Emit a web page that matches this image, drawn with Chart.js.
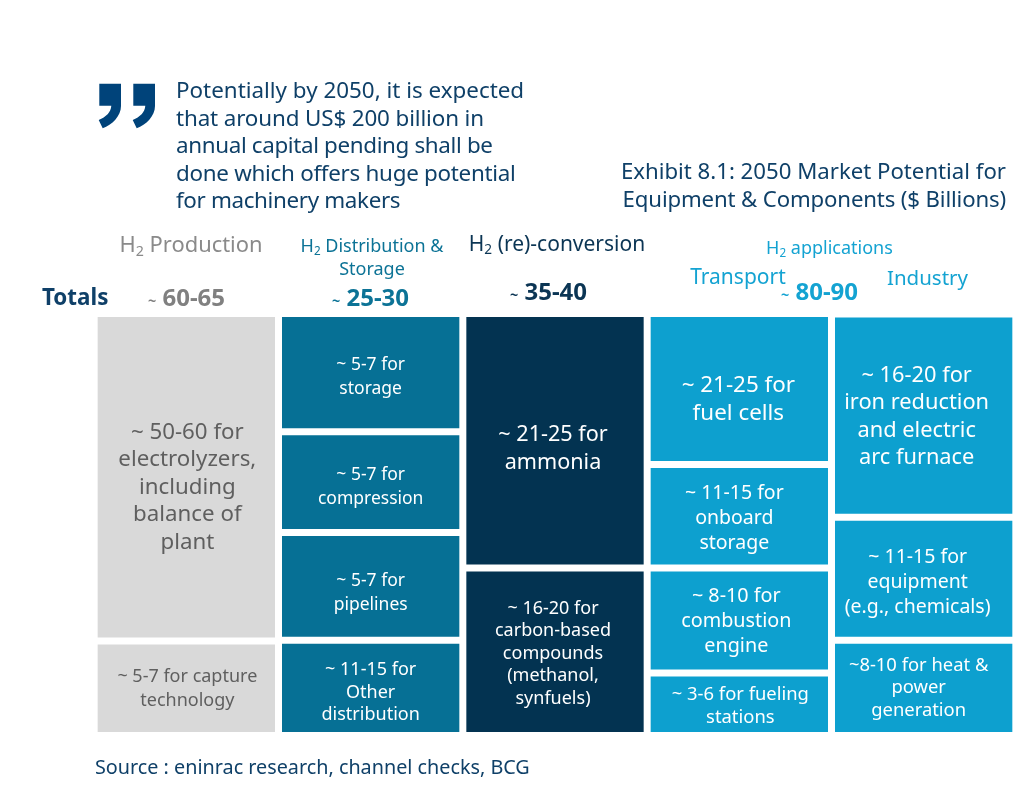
<!DOCTYPE html>
<html>
<head>
<meta charset="utf-8">
<script src="https://cdn.jsdelivr.net/npm/chart.js@4"></script>
<style>
body { margin: 0; background: #fff; font-family: "Noto Sans", sans-serif; }
#wrap { position: relative; width: 1026px; height: 792px; overflow: hidden; }
canvas { position: absolute; left: 0; top: 0; }
.t { position: absolute; white-space: nowrap; line-height: 1; }
.c { transform: translateX(-50%); text-align: center; }
.r { text-align: right; }
.t sub { font-size: 65%; line-height: 0; vertical-align: -0.25em; }
.t small { font-size: 60%; }
.dark { color: #0f4068; }
</style>
</head>
<body>
<div id="wrap">
  <canvas id="chart" width="1026" height="792"></canvas>

  <svg class="t" style="left:0;top:0" width="200" height="140">
    <path fill="#00437a" d="M99.300 83.700H121V106C121 116 112 125 102.700 128.300L98.700 120C106 117 111 112 111.300 105.700H99.300Z"/>
    <path fill="#00437a" d="M133.300 83.700H155V106C155 116 146 125 136.700 128.300L132.700 120C140 117 145 112 145.300 105.700H133.300Z"/>
  </svg>

  <div class="t dark" style="left:176px;top:76px;font-size:22.400px;line-height:27.500px">
    Potentially by 2050, it is expected<br>
    <span style="letter-spacing:-0.13px">that around US$ 200 billion in</span><br>
    <span style="letter-spacing:-0.35px">annual capital pending shall be</span><br>
    <span style="letter-spacing:-0.28px">done which offers huge potential</span><br>
    <span style="letter-spacing:-0.35px">for machinery makers</span>
  </div>
  <div class="t dark r" style="right:20px;top:157px;font-size:22.200px;line-height:28px">
    Exhibit 8.1: 2050 Market Potential for<br>
    <span style="letter-spacing:-0.14px">Equipment &amp; Components ($ Billions)</span>
  </div>

  <div class="t c" style="left:191px;top:233px;font-size:21.900px;color:#8a8a8a">H<sub>2</sub> Production</div>
  <div class="t c" style="left:372px;top:234px;font-size:18px;line-height:23px;color:#0c7396">H<sub>2</sub> Distribution &amp;<br>Storage</div>
  <div class="t c" style="left:557px;top:233px;font-size:21px;color:#0b3554">H<sub>2</sub> (re)-conversion</div>
  <div class="t c" style="left:829.500px;top:238px;font-size:18px;color:#14a3d2">H<sub>2</sub> applications</div>
  <div class="t c" style="left:738px;top:266px;font-size:21px;color:#14a3d2">Transport</div>
  <div class="t c" style="left:927.500px;top:267px;font-size:20.500px;color:#14a3d2">Industry</div>

  <div class="t" style="left:42px;top:286px;font-size:22.400px;font-weight:700;color:#0f4068">Totals</div>
  <div class="t c" style="left:186.500px;top:285px;font-size:24px;font-weight:700;color:#808080"><small>~</small> 60-65</div>
  <div class="t c" style="left:370.500px;top:285px;font-size:24px;font-weight:700;color:#0c7396"><small>~</small> 25-30</div>
  <div class="t c" style="left:548.500px;top:279px;font-size:24px;font-weight:700;color:#0b3554"><small>~</small> 35-40</div>
  <div class="t c" style="left:819.500px;top:279px;font-size:24px;font-weight:700;color:#14a3d2"><small>~</small> 80-90</div>

  <div class="t dark" style="left:95px;top:757px;font-size:19.800px">Source : eninrac research, channel checks, BCG</div>
</div>

<script>
// columns of the exhibit
const columns = ['H2 Production', 'H2 Distribution & Storage', 'H2 (re)-conversion', 'Transport', 'Industry'];
const columnColors = ['#d9d9d9', '#067095', '#033351', '#0da0cf', '#0da0cf'];
const labelColors = ['#5f5f5f', '#ffffff', '#ffffff', '#ffffff', '#ffffff'];

// share of each column, from the bottom block to the top block
const level1 = [22.4, 22.6, 39.7, 14.8, 22.6];
const level2 = [77.6, 25.5, 60.3, 24.9, 29.1];
const level3 = [null, 23.9, null, 24.5, 48.2];
const level4 = [null, 28.0, null, 35.8, null];

const level1Labels = [
    ['~ 5-7 for capture', 'technology'],
    ['~ 11-15 for', 'Other', 'distribution'],
    ['~ 16-20 for', 'carbon-based', 'compounds', '(methanol,', 'synfuels)'],
    ['~ 3-6 for fueling', 'stations'],
    ['~8-10 for heat &', 'power', 'generation']
];
const level2Labels = [
    ['~ 50-60 for', 'electrolyzers,', 'including', 'balance of', 'plant'],
    ['~ 5-7 for', 'pipelines'],
    ['~ 21-25 for', 'ammonia'],
    ['~ 8-10 for', 'combustion', 'engine'],
    ['~ 11-15 for', 'equipment', '(e.g., chemicals)']
];
const level3Labels = [
    null,
    ['~ 5-7 for', 'compression'],
    null,
    ['~ 11-15 for', 'onboard', 'storage'],
    ['~ 16-20 for', 'iron reduction', 'and electric', 'arc furnace']
];
const level4Labels = [
    null,
    ['~ 5-7 for', 'storage'],
    null,
    ['~ 21-25 for', 'fuel cells'],
    null
];

// label style: font size, line spacing, nudge x, nudge y
const level1Fonts = [[18, 24, 1, 1], [18, 22.5, 0, 5], [18, 22.5, -2, 2], [18.4, 23, 1, 2], [18.4, 22.5, -5, 0]];
const level2Fonts = [[22.3, 27.5, 1, 10], [17.5, 24, 0, 7], [21.6, 28, -2, 8], [19.8, 25, -3, 1], [19.5, 25, -6, 4]];
const level3Fonts = [null, [17.5, 24, 0, 4.5], null, [19.5, 25, -5, 2], [21.8, 27.5, -7, 1]];
const level4Fonts = [null, [17.5, 24, 0, 4.5], null, [22.4, 28, -1, 11], null];

const levelLabels = [level1Labels, level2Labels, level3Labels, level4Labels];
const levelFonts = [level1Fonts, level2Fonts, level3Fonts, level4Fonts];

// writes the labels in the middle of each block
const blockLabels = {
    id: 'blockLabels',
    afterDatasetsDraw(chart) {
        const ctx = chart.ctx;
        ctx.save();
        ctx.textAlign = 'center';
        ctx.textBaseline = 'middle';
        chart.data.datasets.forEach((ds, d) => {
            chart.getDatasetMeta(d).data.forEach((bar, i) => {
                const lines = levelLabels[d][i];
                if (!lines) return;
                const font = levelFonts[d][i];
                const p = bar.getProps(['x', 'y', 'base'], true);
                const middle = (p.y + p.base) / 2 + font[3];
                ctx.font = font[0] + 'px "Noto Sans", sans-serif';
                ctx.fillStyle = labelColors[i];
                lines.forEach((line, n) => {
                    ctx.fillText(line, p.x + font[2], middle + (n - (lines.length - 1) / 2) * font[1]);
                });
            });
        });
        ctx.restore();
    }
};

function makeDataset(name, values) {
    return {
        label: name,
        data: values,
        backgroundColor: columnColors,
        borderColor: '#ffffff',
        borderWidth: 3.5,
        borderSkipped: false,
        inflateAmount: 0,
        barPercentage: 1,
        categoryPercentage: 1
    };
}

new Chart(document.getElementById('chart'), {
    type: 'bar',
    data: {
        labels: columns,
        datasets: [
            makeDataset('level 1', level1),
            makeDataset('level 2', level2),
            makeDataset('level 3', level3),
            makeDataset('level 4', level4)
        ]
    },
    options: {
        responsive: false,
        animation: false,
        layout: { padding: { left: 94.17, right: 10.17, top: 313.5, bottom: 56.5 } },
        plugins: { legend: { display: false }, tooltip: { enabled: false } },
        scales: {
            x: { stacked: true, display: false },
            y: { stacked: true, display: false, min: 0, max: 100 }
        }
    },
    plugins: [blockLabels]
});
</script>
</body>
</html>
